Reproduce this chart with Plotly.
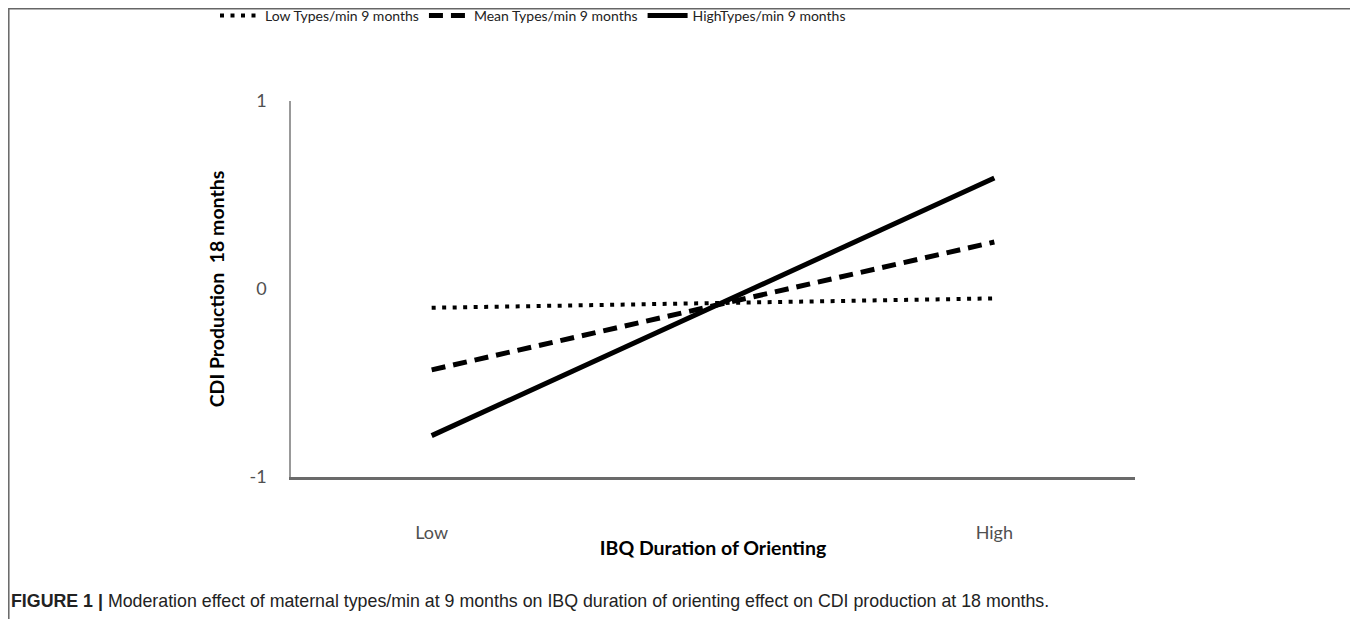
import plotly.graph_objects as go

# Data
x_levels = ["Low", "High"]
x_pos = [0, 1]
low_types = [-0.10, -0.05]
mean_types = [-0.43, 0.25]
high_types = [-0.78, 0.59]
y_ticks = [-1, 0, 1]
y_tick_text = ["-1", "0", "1"]
series_names = ["Low Types/min 9 months", "Mean Types/min 9 months", "HighTypes/min 9 months"]

# figure is placed 8px into the window by the page margin
OFF = 8
W, H = 1358 - OFF, 619 - OFF
L, R, T, B = 291 - OFF, 1135 - OFF, 101 - OFF, 477 - OFF

def px(xp):
    return (xp - L) / (R - L)

def py(yp):
    return (B - yp) / (B - T)

fig = go.Figure()
fig.add_trace(go.Scatter(x=x_pos, y=low_types, mode="lines", name=series_names[0],
                         line=dict(color="black", width=4, dash="4px,6.5px")))
fig.add_trace(go.Scatter(x=x_pos, y=mean_types, mode="lines", name=series_names[1],
                         line=dict(color="black", width=5, dash="14px,8px")))
fig.add_trace(go.Scatter(x=x_pos, y=high_types, mode="lines", name=series_names[2],
                         line=dict(color="black", width=5)))

fig.update_layout(
    width=W, height=H,
    margin=dict(l=L, r=W - R, t=T, b=H - B, autoexpand=False),
    paper_bgcolor="white", plot_bgcolor="white",
    font=dict(family="Lato, Carlito, Calibri, sans-serif", color="black"),
    showlegend=True,
    legend=dict(orientation="h", x=px(525), y=py(-8), xanchor="center", yanchor="top",
                font=dict(size=14, color="#222"), itemwidth=40, tracegroupgap=0,
                bgcolor="rgba(0,0,0,0)"),
    xaxis=dict(range=[-0.25, 1.25], tickvals=x_pos, ticktext=x_levels,
               showgrid=False, zeroline=False, showline=True, linecolor="#6a6a6a", linewidth=2.5,
               ticks="", tickfont=dict(size=18, color="#505050"), ticklabelstandoff=38,
               title=dict(text="<b>IBQ Duration of Orienting</b>", font=dict(size=19.5), standoff=0)),
    yaxis=dict(range=[-1, 1], tickvals=y_ticks, ticktext=y_tick_text, showgrid=False, zeroline=False,
               showline=True, linecolor="#999", linewidth=1.5, ticks="",
               tickfont=dict(size=18, color="#505050"), ticklabelstandoff=19,
               title=dict(text="<b>CDI Production  18 months</b>", font=dict(size=19.5), standoff=20)),
    shapes=[dict(type="path", xref="paper", yref="paper",
                 path=f"M {px(0.8)} {py(H + 5)} L {px(0.8)} {py(0.8)} L {px(1347)} {py(0.8)} L {px(1347)} {py(H + 5)}",
                 line=dict(color="#666", width=1.5))],
    annotations=[dict(xref="paper", yref="paper", x=px(1), y=py(593), xanchor="left", yanchor="middle",
                      showarrow=False,
                      text="<b>FIGURE 1</b> <b>|</b> Moderation effect of maternal types/min at 9 months on IBQ duration of orienting effect on CDI production at 18 months.",
                      font=dict(family="Liberation Sans, Arial, sans-serif", size=17.8, color="#222"))],
)

fig.write_html("out.html")
